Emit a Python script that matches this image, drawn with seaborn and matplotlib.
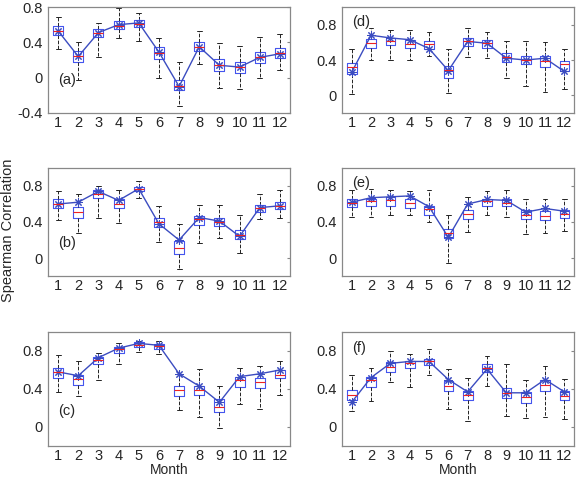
import pandas as pd
import matplotlib.pyplot as plt
import seaborn as sns
import numpy as np

months = list(range(1, 13))

# panel (a)
a_lo = [0.32, -0.03, 0.23, 0.45, 0.42, 0.00, -0.32, 0.16, -0.12, -0.13, 0.00, 0.09]
a_q1 = [0.48, 0.18, 0.46, 0.55, 0.57, 0.21, -0.14, 0.30, 0.07, 0.05, 0.17, 0.22]
a_med = [0.53, 0.24, 0.51, 0.59, 0.61, 0.28, -0.09, 0.35, 0.14, 0.12, 0.23, 0.28]
a_q3 = [0.59, 0.30, 0.55, 0.64, 0.65, 0.35, -0.03, 0.40, 0.21, 0.18, 0.29, 0.34]
a_hi = [0.69, 0.40, 0.62, 0.79, 0.73, 0.45, 0.18, 0.53, 0.39, 0.36, 0.46, 0.49]
a_star = [0.53, 0.24, 0.51, 0.60, 0.62, 0.29, -0.10, 0.35, 0.14, 0.12, 0.23, 0.27]

# panel (b)
b_lo = [0.42, 0.28, 0.45, 0.39, 0.67, 0.18, -0.12, 0.17, 0.22, 0.06, 0.43, 0.45]
b_q1 = [0.56, 0.45, 0.67, 0.55, 0.74, 0.34, 0.05, 0.37, 0.36, 0.21, 0.51, 0.54]
b_med = [0.60, 0.51, 0.71, 0.60, 0.77, 0.40, 0.11, 0.43, 0.40, 0.26, 0.56, 0.58]
b_q3 = [0.65, 0.57, 0.75, 0.65, 0.79, 0.45, 0.19, 0.47, 0.45, 0.31, 0.59, 0.62]
b_hi = [0.74, 0.71, 0.80, 0.75, 0.86, 0.58, 0.38, 0.59, 0.59, 0.48, 0.71, 0.75]
b_star = [0.60, 0.62, 0.74, 0.64, 0.77, 0.38, 0.20, 0.45, 0.41, 0.24, 0.56, 0.58]

# panel (c)
c_lo = [0.37, 0.33, 0.49, 0.66, 0.79, 0.77, 0.18, 0.11, -0.01, 0.24, 0.19, 0.34]
c_q1 = [0.52, 0.44, 0.66, 0.78, 0.84, 0.82, 0.33, 0.34, 0.16, 0.42, 0.41, 0.52]
c_med = [0.58, 0.51, 0.71, 0.82, 0.86, 0.85, 0.39, 0.39, 0.21, 0.50, 0.47, 0.55]
c_q3 = [0.62, 0.55, 0.74, 0.84, 0.89, 0.87, 0.43, 0.43, 0.30, 0.53, 0.52, 0.60]
c_hi = [0.76, 0.70, 0.78, 0.88, 0.91, 0.91, 0.56, 0.61, 0.43, 0.62, 0.64, 0.69]
c_star = [0.58, 0.54, 0.73, 0.83, 0.88, 0.86, 0.56, 0.43, 0.26, 0.53, 0.56, 0.60]

# panel (d)
d_lo = [0.02, 0.40, 0.40, 0.40, 0.44, 0.03, 0.43, 0.42, 0.20, 0.10, 0.04, 0.07]
d_q1 = [0.24, 0.54, 0.57, 0.54, 0.53, 0.20, 0.56, 0.54, 0.38, 0.35, 0.32, 0.28]
d_med = [0.32, 0.59, 0.61, 0.58, 0.58, 0.29, 0.61, 0.59, 0.43, 0.40, 0.39, 0.35]
d_q3 = [0.37, 0.64, 0.65, 0.63, 0.62, 0.33, 0.65, 0.63, 0.48, 0.45, 0.44, 0.39]
d_hi = [0.53, 0.76, 0.74, 0.74, 0.72, 0.53, 0.76, 0.72, 0.62, 0.62, 0.60, 0.53]
d_star = [0.26, 0.68, 0.65, 0.63, 0.53, 0.28, 0.61, 0.59, 0.42, 0.40, 0.42, 0.27]

# panel (e)
e_lo = [0.46, 0.46, 0.48, 0.48, 0.40, -0.06, 0.29, 0.48, 0.46, 0.27, 0.28, 0.30]
e_q1 = [0.57, 0.58, 0.58, 0.56, 0.48, 0.22, 0.43, 0.58, 0.58, 0.43, 0.42, 0.45]
e_med = [0.61, 0.63, 0.64, 0.61, 0.54, 0.28, 0.49, 0.63, 0.61, 0.48, 0.47, 0.49]
e_q3 = [0.65, 0.66, 0.68, 0.66, 0.58, 0.32, 0.53, 0.66, 0.66, 0.53, 0.52, 0.53]
e_hi = [0.75, 0.77, 0.75, 0.74, 0.76, 0.48, 0.68, 0.74, 0.75, 0.65, 0.65, 0.66]
e_star = [0.62, 0.67, 0.68, 0.69, 0.57, 0.23, 0.60, 0.65, 0.64, 0.51, 0.55, 0.52]

# panel (f)
f_lo = [0.17, 0.27, 0.47, 0.42, 0.55, 0.19, 0.06, 0.43, 0.12, 0.10, 0.11, 0.08]
f_q1 = [0.28, 0.42, 0.58, 0.62, 0.65, 0.38, 0.28, 0.58, 0.31, 0.25, 0.38, 0.28]
f_med = [0.34, 0.49, 0.63, 0.67, 0.69, 0.43, 0.34, 0.62, 0.36, 0.32, 0.44, 0.33]
f_q3 = [0.39, 0.53, 0.68, 0.70, 0.72, 0.48, 0.38, 0.66, 0.41, 0.37, 0.50, 0.38]
f_hi = [0.55, 0.62, 0.80, 0.77, 0.82, 0.61, 0.52, 0.75, 0.66, 0.50, 0.64, 0.51]
f_star = [0.26, 0.52, 0.67, 0.69, 0.69, 0.50, 0.37, 0.61, 0.36, 0.36, 0.50, 0.37]

panels = [
    ("(a)", a_lo, a_q1, a_med, a_q3, a_hi, a_star),
    ("(b)", b_lo, b_q1, b_med, b_q3, b_hi, b_star),
    ("(c)", c_lo, c_q1, c_med, c_q3, c_hi, c_star),
    ("(d)", d_lo, d_q1, d_med, d_q3, d_hi, d_star),
    ("(e)", e_lo, e_q1, e_med, e_q3, e_hi, e_star),
    ("(f)", f_lo, f_q1, f_med, f_q3, f_hi, f_star),
]

sns.set_style("white")
plt.rcParams["font.family"] = ["Liberation Sans", "DejaVu Sans"]

W, H = 584, 478
fig = plt.figure(figsize=(W / 100, H / 100), dpi=100)

# pixel boxes (left, top, right, bottom)
rects = [
    (48, 7, 290, 113), (48, 168, 290, 276), (48, 332, 290, 446),
    (342, 7, 574, 113), (342, 168, 574, 276), (342, 332, 574, 446),
]
box_col = "#4455ee"
line_col = "#3b4cc0"
fs = 10.5

for i, (lab, lo, q1, med, q3, hi, star) in enumerate(panels):
    l, t, r, b = rects[i]
    ax = fig.add_axes([l / W, 1 - b / H, (r - l) / W, (b - t) / H])
    rows = []
    for m, vals in zip(months, zip(lo, q1, med, q3, hi)):
        for v in vals:
            rows.append({"Month": m, "value": v})
    df = pd.DataFrame(rows)
    sns.boxplot(data=df, x="Month", y="value", ax=ax, whis=(0, 100), width=0.5,
                fill=False, color=box_col, linewidth=0.8, showfliers=False,
                boxprops=dict(color=box_col, linewidth=0.8),
                medianprops=dict(color="#ee2222", linewidth=0.8),
                whiskerprops=dict(color="#222222", linestyle="--", linewidth=0.7),
                capprops=dict(color="#222222", linewidth=0.7))
    sns.lineplot(x=np.arange(12), y=star, ax=ax, color=line_col, linewidth=1.0,
                 marker=(8, 2, 0), markersize=6, markeredgecolor=line_col)
    if lab == "(a)":
        ax.set_ylim(-0.4, 0.8)
        ticks = [-0.4, 0, 0.4, 0.8]
    else:
        ax.set_ylim(-0.2, 1.0)
        ticks = [0, 0.4, 0.8]
    ax.set_yticks(ticks)
    ax.set_yticklabels(["0" if v == 0 else f"{v:g}" for v in ticks])
    ax.set_xlim(-0.5, 11.5)
    ax.set_xlabel("")
    ax.set_ylabel("")
    ax.tick_params(direction="in", length=2, labelsize=fs, right=True, top=False,
                   color="#888888", pad=4)
    ax.tick_params(axis="x", pad=2)
    for s in ax.spines.values():
        s.set_color("#888888")
        s.set_linewidth(0.9)
    if i < 3:
        ax.text(0.04, 0.31, lab, transform=ax.transAxes, fontsize=fs, va="center")
    else:
        ax.text(0.045, 0.86, lab, transform=ax.transAxes, fontsize=fs, va="center")
    if i in (2, 5):
        fig.text(((l + r) / 2) / W, 1 - 470 / H, "Month", fontsize=10,
                 ha="center", va="center")

fig.text(8 / W, 1 - 230 / H, "Spearman Correlation", rotation=90, fontsize=fs,
         ha="center", va="center")

fig.savefig("out.png", dpi=100)
